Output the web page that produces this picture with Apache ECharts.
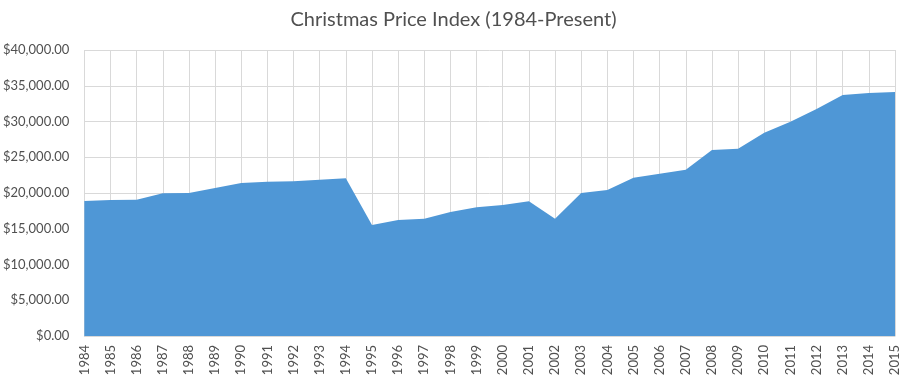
<!DOCTYPE html>
<html>
<head>
<meta charset="utf-8">
<script src="https://cdn.jsdelivr.net/npm/echarts@6/dist/echarts.min.js"></script>
<style>html,body{margin:0;padding:0;background:#fff}#c{width:907px;height:381px}</style>
</head>
<body>
<div id="c"></div>
<script>
const titleText = "Christmas Price Index (1984-Present)";
const years = ["1984","1985","1986","1987","1988","1989","1990","1991","1992","1993","1994","1995","1996","1997","1998","1999","2000","2001","2002","2003","2004","2005","2006","2007","2008","2009","2010","2011","2012","2013","2014","2015"];
const priceIndex = [18880,19020,19070,19950,20000,20700,21400,21580,21630,21870,22050,15520,16220,16410,17340,18000,18320,18830,16410,20000,20420,22140,22700,23260,26010,26200,28440,29980,31750,33700,33990,34130];
const yMin = 0, yMax = 40000, yStep = 5000;

const chart = echarts.init(document.getElementById('c'), null, {renderer:'canvas'});
chart.setOption({
  animation:false,
  backgroundColor:'#ffffff',
  title:{text:titleText,left:'center',top:5,textStyle:{fontFamily:'Lato',fontSize:20,fontWeight:'normal',color:'#505050'}},
  grid:{left:79,right:12,top:50,bottom:45,containLabel:false},
  xAxis:{type:'category',data:years,boundaryGap:false,
    axisLine:{show:true,lineStyle:{color:'#d9d9d9',width:1}},
    axisTick:{show:false},
    splitLine:{show:true,lineStyle:{color:'#d9d9d9',width:1}},
    axisLabel:{rotate:90,interval:0,margin:9,fontFamily:'Lato',fontSize:13,color:'#505050'}},
  yAxis:{type:'value',min:yMin,max:yMax,interval:yStep,
    axisLine:{show:false},axisTick:{show:false},
    splitLine:{show:true,lineStyle:{color:'#d9d9d9',width:1}},
    axisLabel:{margin:15,fontFamily:'Lato',fontSize:13,color:'#505050',
      formatter:v=>'$'+v.toLocaleString('en-US',{minimumFractionDigits:2,maximumFractionDigits:2})}},
  series:[{type:'line',data:priceIndex,symbol:'none',
    lineStyle:{width:0,color:'#4f97d6'},
    areaStyle:{color:'#4f97d6',opacity:1},
    itemStyle:{color:'#4f97d6'}}]
});
</script>
</body>
</html>
